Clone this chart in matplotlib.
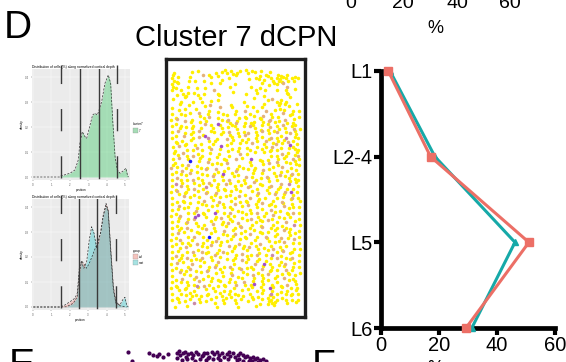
import matplotlib
matplotlib.use("Agg")
import matplotlib.pyplot as plt
from matplotlib.patches import Rectangle

plt.rcParams['font.family'] = ['Liberation Sans', 'DejaVu Sans']

W, H = 566, 362

# ---------------- data ----------------
layers = ["L1", "L2-4", "L5", "L6"]
pct_teal = [3.1, 18.6, 46.2, 31.3]
pct_red = [2.5, 17.1, 51.0, 29.3]
pct_ticks = [0, 20, 40, 60]

# depth density, single cluster
dens1_x = [0.02, 1.47, 1.52, 2.01, 2.28, 2.46, 2.55, 2.68, 2.83, 2.92, 3.10, 3.24, 3.37, 3.50,
           3.59, 3.73, 3.91, 4.09, 4.22, 4.33, 4.46, 4.58, 4.73, 4.91, 5.05, 5.13, 5.18]
dens1_y = [0, 0, 0.04, 0.15, 0.28, 0.68, 1.35, 1.81, 1.61, 1.55, 2.08, 2.48, 2.55, 2.48,
           2.68, 3.01, 3.75, 4.08, 3.75, 2.28, 0.81, 0.28, 0.15, 0.25, 0.35, 0.08, 0]
bounds1_dashed = [1.52, 4.57]
bounds1_solid = [2.55, 3.59]

# depth density, two groups
dens_ctrl_x = [0.02, 1.47, 1.74, 2.01, 2.28, 2.41, 2.52, 2.64, 2.77, 2.92, 3.10, 3.28,
               3.42, 3.55, 3.68, 3.82, 3.97, 4.09, 4.22, 4.37, 4.51, 4.73, 5.09]
dens_ctrl_y = [0, 0, 0.08, 0.21, 0.35, 0.55, 1.55, 1.85, 1.72, 1.55, 1.81, 2.15,
               2.41, 2.68, 2.95, 3.61, 4.15, 3.88, 2.41, 0.81, 0.21, 0.05, 0]
dens_mut_x = [0.02, 1.47, 1.83, 2.19, 2.41, 2.52, 2.64, 2.77, 2.92, 3.06, 3.19, 3.32, 3.46,
              3.57, 3.68, 3.82, 3.97, 4.09, 4.22, 4.37, 4.51, 4.73, 4.87, 5.00, 5.09, 5.18]
dens_mut_y = [0, 0, 0.01, 0.15, 0.41, 1.35, 1.81, 1.55, 1.81, 2.68, 3.21, 2.95, 2.35,
              2.61, 3.01, 3.68, 4.04, 3.81, 2.28, 0.68, 0.15, 0.08, 0.28, 0.39, 0.08, 0]
bounds2_dashed = [1.50, 4.49]
bounds2_solid = [2.50, 3.49]

# spatial map of cells in the section (rows = depth bins, cols = width bins)
# y: strong, o: medium, m: weak, p: low, b: lowest expression
cell_map = [
    ".y.....y.y.....y.yy.y.yy.y.yy.y..y.........",
    "y.........o.y..y..y.yy...y...y.y...yy.y....",
    "y.y...y......y.....y........yy..yy.yyyy.yyy",
    "yy...y.y..y.....y........y....y..y.yy.y.y..",
    "y.y..........y..y....y........y...yy.o.....",
    "yy...y..y..........y......y..y..y.....o....",
    "y..y.......y..o.............y..y...y..y..y.",
    ".....y.y.......y....y.......y.........y....",
    "..y.yy...y.y....y........y.....y.......y...",
    "y...y....y.....y...........y.....o..y..y...",
    "...y...y..y..y..........y.......y..yy.y....",
    "..y..y......o......y..........y....y.y...y.",
    "y.......y..y....o...y....y.y..y.....y..y...",
    "..y.y.......y..y.....y..o...y..o..y..y..y.y",
    "y..y..y..o..y....y...y....y......y...o..y..",
    ".y..y....y..o..y..y...y.y..y.yo..y.y...y..y",
    "y.o....y...y.....y.o..y..y....y..o..y.o..y.",
    ".y..o.y..y.y...p..yy.o..y.yy..y.o.y...y.y..",
    "y..y...y...o.y..y...yy..y.oy..y.y..y.o..yy.",
    "..y.y.y..y...y..y.y..y.....y.y..o..y.y..o.y",
    "y.o....y.o...yy..y.o..y.y...y.o.y.yo..y..y.",
    ".y..y.y...y.....y..y..y.oo..y...y...y..o.y.",
    "y...o..y.o.pm..y....y.......y.y..o.y..m..yy",
    ".y.y..y.....y.y...o.y..y.y..y..oy..y.y..y..",
    "..y..y..y.y...y.....y..y.y.o...y..yo.y.o..y",
    "y.o.y...o...y...p.y...y.....y..y.o..y..py..",
    ".y...y.y..y..o..y...y.y..yy...y..y.y...y.yy",
    "y..o....y...y..y..y...o....y..y.y...o.y..y.",
    "..y..y.o..y....y...y.....y.......y.y..y..yo",
    "y.o..y...y..y....y...o.y..p..y.....y.y..o.y",
    ".y....b..y..o..y..y.......y...y.y..o..y..y.",
    "y..y.o..y....y..y.o...y...y...y.o..y...y.yy",
    "o.y..y....y.y..o...y..y.y...y.....y..o..y..",
    ".y.o..y.y..o...y.y...o...y.y..o.y...y.y..y.",
    "y..y..o...y...y..p..y.y....y..y...y.o...o.y",
    ".o..y...y..y.o..y...y...o.y..y.o..y..y.y...",
    "y..y.y.o..y...y..y.o..y.y...y...y..y...y.yy",
    ".m.y...y..y.o..y...y....y..o.y..y...o..y.y.",
    "y..o.y...y...y.y..o..y.y..y...y..o..y..m..y",
    ".y...y.o..ym...y.y...y...o..y...y..y..y.y..",
    "y.o..y...y..y..o..y.y..y...y.o..y..y..o.p.y",
    "..y.y..y...o..y....y..o.y...y...y.o..y..y..",
    "y...o.y..y...y..y.y..y....o..y.y...y.y..o.y",
    ".y.y....y.o..y.o...y..y.y...y....y..o..y..y",
    "y...y.y...y....y.y...o...y..y.o..y...y..y..",
    "..o..y..y..y.y...y.y...y.o..y...y.y..o..y.y",
    "y.y.y...o...y..y....y.y...y...y..o..y..y...",
    ".y...y.y..y...p..y.o...y..y.o..y..y...y.o.y",
    "y..o....pp.y...y...y.y...y...y.y..o.y..y...",
    "..y..y.o...y..y.o..y...y..o..y...y...y.y..y",
    "y.y..o..y....y...y..y.o..y..y.y.o..y..o..y.",
    ".y..y...y.y..o..y.o...y...y..y...y..y...m.y",
    "y..y.o....y...y...y..y.o..y...o..y.y..y....",
    "..y...y.y..o..y..o..y...y..y.y....y..o.y..y",
    "y.o.y....y...y...y...o.y..o...y.y..y...y.y.",
    ".y...y.o..y.b..y..y.y...y...y..o..y.o..y..y",
    "y..o...y....y..o....y..y.y..y...y...y..y.o.",
    ".y.y.y..o.y..y..y.y...o...y..o..y.y..o..y.y",
    "y.....y...y..o..y..o.y..y...y....y..y.y....",
    "..y.o...y..y...y....y..y.o..y.y..o..y...y.y",
    "y.y..y.o..o.y..y.o..y....y...y..y..y.o..y..",
    ".o.y...y...y..o...y..y.o..y.o..y.m..y..y..y",
    "y..y.o..y.o..y..y....y...y...y...y.o..y.o..",
    "..y...y..y...y.o..y.y..o.y..y..y....y..y..y",
    "y.o.y..o...y...y.....y...y..o..p.y..y.o..y.",
    ".y...y...y..y.o..y.o..y...y...y..y...y..y.y",
    "y..y..o.y...y...y...y..o.y.y..o..y.y..o.y..",
    "..o.y....y.o..y.y..y...y....y...y...y.y...y",
    "y...y.y.o...y....y..o.y..y.o..y.o..y...y.y.",
    ".y.o...y..y..y.y...y...y...y..y...y..o..y..y",
    "y..y.y...o...y..y..y.y..o..y..y.y..y...y.y.",
    ".y...y.ym...y..y.y...o..y.yp..y..y..y.o..y.",
    "y.y..y...y.o..y...y..y.....y..y..py..y..y.y",
    "..y.y..y...y..y..y.y...y.y..y.y..y..y.y..y.",
    "y..y..y.y...y...y..y.yy...y...y..m.y..y.y.y",
    ".y..y.y..y.y..y.y..y...y..y.y...yy..y..y...",
    "y.y...y..y...y...yy..y.y...y..y.yy.y..y.y.y",
    "..y.y..m.y.y..y..y...y...y...y..yyy...y..y.",
    ".y...y.........y......y.....y...y.y........",
]
cell_colors = {"y": "#ffef00", "o": "#e4b27a", "m": "#c98aa6",
               "p": "#a24fc8", "b": "#1a1aff"}

# embedding (next panel)
emb_x = [128.3, 132.3, 149.3, 153.3, 156.7, 159.3, 163.3, 168.3, 176.7, 177.3, 179.3, 180.0,
         181.7, 183.3, 186.0, 187.3, 188.3, 190.7, 193.3, 195.0, 196.0, 198.3, 200.0, 201.7,
         204.0, 206.0, 206.7, 209.3, 211.7, 213.3, 214.0, 216.7, 219.0, 220.0, 221.7, 224.0,
         226.7, 227.7, 230.0, 232.7, 235.0, 236.7, 237.7, 240.0, 242.7, 243.3, 245.0, 247.3,
         250.0, 251.7, 252.7, 255.0, 257.3, 258.3, 260.0, 263.3, 266.0, 184.5, 191.5, 202.5,
         208.0, 217.5, 228.5, 238.5, 248.5]
emb_y = [351.7, 361.0, 352.7, 355.0, 356.0, 354.0, 356.7, 354.3, 352.7, 358.3, 350.7, 355.0,
         360.0, 353.3, 356.7, 359.3, 354.0, 352.7, 355.3, 360.7, 352.0, 354.0, 359.3, 356.0,
         352.7, 360.0, 353.3, 356.7, 352.0, 358.7, 354.0, 351.7, 355.0, 360.0, 352.7, 356.7,
         354.0, 359.3, 356.0, 353.3, 356.7, 360.0, 354.7, 352.7, 355.3, 360.7, 357.3, 356.0,
         358.3, 361.3, 356.7, 359.3, 358.0, 361.7, 360.0, 359.3, 360.7, 351.5, 357.5, 355.0,
         358.0, 357.5, 352.0, 358.5, 361.0]

TEAL = "#16a9a8"
RED = "#ec6f66"

# sub-bin placement so the map does not read as a lattice
ROW_SHIFT = [0.0, 0.55, 0.2, 0.8, 0.35, 0.65, 0.1, 0.45]
COL_SHIFT = [0.0, 0.4, -0.3, 0.2, -0.4, 0.3, -0.1]


def fig_xy(x, y):
    return x / W, 1 - y / H


def px_axes(fig, x0, y0, x1, y1):
    return fig.add_axes([x0 / W, 1 - y1 / H, (x1 - x0) / W, (y1 - y0) / H])


fig = plt.figure(figsize=(W / 100, H / 100), dpi=100)
fig.patch.set_facecolor("white")

# ---------- labels of the panel above / panel letters ----------
for t, xc in zip(pct_ticks, [351, 403, 457, 510]):
    fig.text(*fig_xy(xc, 8), str(t), fontsize=14, ha="center", va="baseline")
fig.text(*fig_xy(435, 33), "%", fontsize=13, ha="center", va="baseline")

fig.text(*fig_xy(4, 38), "D", fontsize=28, ha="left", va="baseline")
fig.text(*fig_xy(236, 46), "Cluster 7 dCPN", fontsize=21, ha="center", va="baseline")
fig.text(*fig_xy(9, 376), "E", fontsize=28, ha="left", va="baseline")
fig.text(*fig_xy(312, 377), "F", fontsize=28, ha="left", va="baseline")


# ---------- density panels ----------
def style_gg(ax, title, xlim):
    ax.set_facecolor("#ebebeb")
    for s in ax.spines.values():
        s.set_visible(False)
    ax.set_xlim(*xlim)
    ax.set_ylim(-0.12, 4.32)
    ax.set_xticks([0, 1, 2, 3, 4, 5])
    ax.set_yticks([0, 1, 2, 3, 4])
    ax.set_xticklabels(["0", "1", "2", "3", "4", "5"])
    ax.set_yticklabels(["0.0", "0.1", "0.2", "0.3", "0.4"])
    ax.grid(True, color="white", lw=0.35)
    ax.set_axisbelow(True)
    ax.tick_params(length=1, width=0.3, color="#555555", labelsize=2,
                   labelcolor="#555555", pad=1)
    ax.set_title(title, fontsize=2.4, loc="left", pad=1)
    ax.set_xlabel("position", fontsize=2.2, labelpad=1)
    ax.set_ylabel("density", fontsize=2.2, labelpad=1)


def bounds(ax, dashed, solid):
    for xv in dashed:
        ax.axvline(xv, ymin=0.02, ymax=1.04, color="#3a3a3a", lw=1.0,
                   dashes=(16, 18), clip_on=False)
    for xv in solid:
        ax.axvline(xv, ymin=0.02, ymax=1.0, color="#3a3a3a", lw=1.0)


ttl = "Distribution of cells (%) along normalized cortical depth"
ax1 = px_axes(fig, 32, 69, 130, 180)
style_gg(ax1, ttl, (-0.05, 5.27))
ax1.fill_between(dens1_x, dens1_y, color="#00BA38", alpha=0.3, lw=0)
ax1.plot(dens1_x, dens1_y, color="#333333", lw=0.5, ls=(0, (3, 2)))
bounds(ax1, bounds1_dashed, bounds1_solid)

ax2 = px_axes(fig, 32, 199, 129, 310)
style_gg(ax2, ttl, (-0.05, 5.22))
ax2.fill_between(dens_ctrl_x, dens_ctrl_y, color="#F8766D", alpha=0.32, lw=0)
ax2.fill_between(dens_mut_x, dens_mut_y, color="#00BFC4", alpha=0.32, lw=0)
ax2.plot(dens_ctrl_x, dens_ctrl_y, color="#333333", lw=0.5, ls=(0, (3, 2)))
ax2.plot(dens_mut_x, dens_mut_y, color="#333333", lw=0.5, ls=(0, (3, 2)))
bounds(ax2, bounds2_dashed, bounds2_solid)

# legends
fig.text(*fig_xy(133, 125), "cluster7", fontsize=2.2, va="baseline")
fig.add_artist(Rectangle(fig_xy(133, 133), 5 / W, 5 / H, transform=fig.transFigure,
                         facecolor="#a6dcb6", edgecolor="#888888", lw=0.2))
fig.text(*fig_xy(139, 131.5), "7", fontsize=2.2, va="baseline")

fig.text(*fig_xy(133, 252), "group", fontsize=2.2, va="baseline")
fig.add_artist(Rectangle(fig_xy(133, 259), 5 / W, 5 / H, transform=fig.transFigure,
                         facecolor="#f4c3bd", edgecolor="#888888", lw=0.2))
fig.add_artist(Rectangle(fig_xy(133, 265), 5 / W, 5 / H, transform=fig.transFigure,
                         facecolor="#a6e2e2", edgecolor="#888888", lw=0.2))
fig.text(*fig_xy(139, 257.5), "ctrl", fontsize=2.2, va="baseline")
fig.text(*fig_xy(139, 263.5), "mut", fontsize=2.2, va="baseline")

# ---------- spatial map ----------
axs = px_axes(fig, 166, 59, 305, 317)
axs.set_xlim(-2.17, 44.17)
axs.set_ylim(81.83, -4.17)
axs.set_xticks([])
axs.set_yticks([])
for s in axs.spines.values():
    s.set_linewidth(2.4)
    s.set_color("#1e1e1e")
for key, col in cell_colors.items():
    xs, ys = [], []
    for r, row in enumerate(cell_map):
        for c, ch in enumerate(row[:43]):
            if ch == key:
                xs.append(c + ROW_SHIFT[r % len(ROW_SHIFT)] - 0.4)
                ys.append(r + COL_SHIFT[c % len(COL_SHIFT)])
    axs.scatter(xs, ys, s=6.5, marker="o", color=col, linewidths=0,
                zorder=3 if key != "y" else 2)

# ---------- layer distribution ----------
axl = px_axes(fig, 381, 71, 555, 328)
ypos = list(range(len(layers)))
axl.plot(pct_teal, ypos, color=TEAL, lw=2.2, marker="^", ms=5, clip_on=False, zorder=3)
axl.plot(pct_red, ypos, color=RED, lw=2.2, marker="s", ms=6, clip_on=False, zorder=4)
axl.set_ylim(len(layers) - 1, 0)
axl.set_xlim(0, 60)
axl.set_yticks(ypos)
axl.set_yticklabels(layers)
axl.set_xticks(pct_ticks)
for side in ("top", "right"):
    axl.spines[side].set_visible(False)
for side in ("left", "bottom"):
    axl.spines[side].set_linewidth(3.4)
    axl.spines[side].set_capstyle("projecting")
axl.tick_params(axis="both", width=3, length=5, labelsize=14.5, pad=1)
axl.patch.set_alpha(0)
fig.text(*fig_xy(435, 373), "%", fontsize=13, ha="center", va="baseline")

# ---------- embedding (next panel, top edge) ----------
axe = px_axes(fig, 100, 340, 300, 362)
axe.set_xlim(100, 300)
axe.set_ylim(362, 340)
axe.axis("off")
axe.scatter(emb_x, emb_y, s=9, color="#440154", linewidths=0)

fig.savefig("out.png", dpi=100)
